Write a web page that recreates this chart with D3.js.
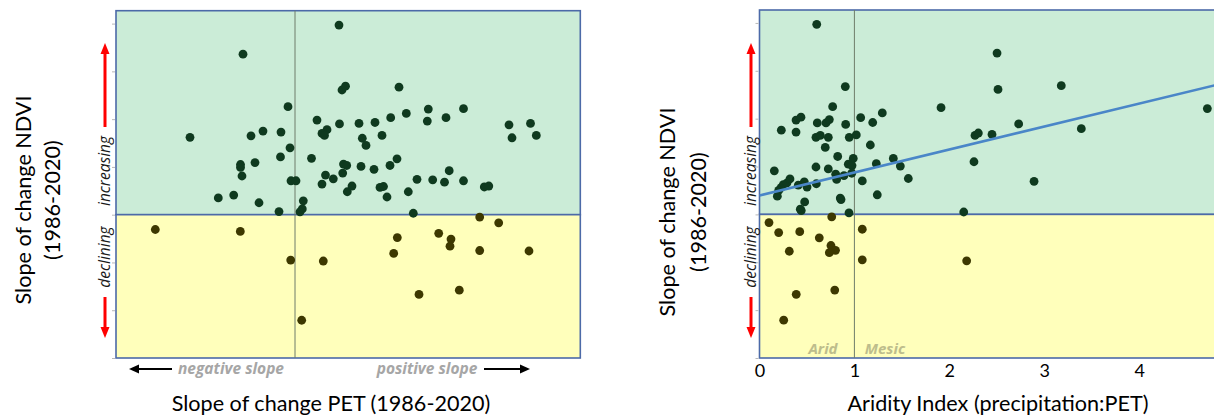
<!DOCTYPE html>
<html>
<head>
<meta charset="utf-8">
<script src="https://cdn.jsdelivr.net/npm/d3@7/dist/d3.min.js"></script>
<style>
  html, body { margin: 0; padding: 0; background: #fff; }
  svg { display: block; font-family: Lato, "Open Sans", sans-serif; }
</style>
</head>
<body>
<svg id="chart" width="1214" height="417"></svg>
<script>
// ---- Left panel: PET trend vs NDVI trend (per site) ----
const petSlope = [
  0.44, -0.52, 0.47, 0.505, 1.04, -0.07, 0.22, 0.445, 0.32, 0.27,
  0.295, -1.05, -0.44, -0.32, -0.14, -0.05, -0.145, 0.165, -0.545, -0.545,
  -0.40, -0.53, 0.485, 0.517, 0.477, 0.305, 0.383, 0.27, -0.04, 0.01,
  -0.767, -0.613, -0.36, -0.16, 0.083, 0.073, 0.05, 0.523, 0.57, 0.64,
  0.80, 0.957, 1.113, 1.333, 1.323, 1.51, 1.685, 0.673, 0.71, 0.87,
  2.14, 2.355, 2.17, 2.413, 0.66, 0.79, 0.95, 1.02, 1.542, 1.22,
  1.377, 1.495, 1.685, 0.85, 0.885, 0.92, 1.133, 1.893, 1.938, 1.183,
  -1.397, -0.547, -0.043, 0.283, 0.067, 1.847, 2.037, 1.023, 1.437, 1.56,
  1.55, 0.987, 1.847, 2.34, 1.24, 1.643
];
const ndviLeft = [
  3.97, 3.36, 2.61, 2.69, 2.67, 2.26, 1.98, 1.90, 1.78, 1.70,
  1.66, 1.62, 1.65, 1.75, 1.73, 1.40, 1.21, 1.18, 1.05, 0.99,
  1.09, 0.81, 1.06, 1.03, 0.87, 0.83, 0.75, 0.64, 0.71, 0.71,
  0.35, 0.41, 0.25, 0.065, 0.29, 0.12, 0.06, 0.48, 0.60, 1.91,
  1.93, 2.03, 2.12, 2.21, 1.96, 2.03, 2.22, 1.60, 1.45, 1.66,
  1.88, 1.91, 1.61, 1.66, 1.01, 0.95, 1.03, 1.17, 0.92, 0.74,
  0.73, 0.68, 0.71, 0.57, 0.59, 0.37, 0.48, 0.58, 0.60, 0.03,
  -0.31, -0.35, -0.95, -0.97, -2.21, -0.05, -0.17, -0.48, -0.39, -0.51,
  -0.66, -0.81, -0.75, -0.76, -1.67, -1.58
];

// ---- Right panel: aridity index vs NDVI trend ----
const aridity = [
  0.603, 0.904, 0.771, 1.294, 1.066, 1.193, 0.385, 0.437, 0.609, 0.701,
  0.736, 0.908, 0.230, 0.385, 0.595, 0.641, 0.725, 0.946, 1.020, 0.693,
  1.168, 0.824, 0.988, 1.410, 0.156, 0.595, 0.725, 0.936, 0.975, 1.231,
  1.484, 1.568, 1.083, 0.803, 0.813, 0.890, 0.972, 0.227, 0.251, 0.290,
  0.321, 0.188, 0.202, 0.409, 0.472, 0.501, 0.599, 0.851, 0.859, 1.241,
  0.476, 0.430, 0.440, 0.943,
  2.503, 2.513, 3.180, 1.913, 4.719, 2.731, 2.271, 2.306, 2.450, 3.391,
  2.260, 2.893, 2.152,
  0.100, 0.202, 0.424, 0.630, 0.761, 0.753, 0.801, 0.736, 0.314, 1.083,
  1.083, 0.387, 0.793, 0.255, 2.183
];
const ndviRight = [
  3.97, 2.67, 2.25, 2.12, 2.02, 1.92, 1.97, 2.03, 1.91, 1.91,
  1.98, 1.88, 1.76, 1.72, 1.61, 1.65, 1.61, 1.61, 1.66, 1.40,
  1.45, 1.21, 1.17, 1.17, 0.91, 0.99, 0.95, 1.05, 1.02, 1.06,
  1.01, 0.75, 0.70, 0.84, 0.73, 0.81, 0.86, 0.56, 0.62, 0.66,
  0.74, 0.38, 0.50, 0.61, 0.68, 0.57, 0.64, 0.34, 0.31, 0.41,
  0.26, 0.11, 0.08, 0.03,
  3.37, 2.61, 2.69, 2.23, 2.21, 1.89, 1.65, 1.70, 1.67, 1.79,
  1.10, 0.69, 0.05,
  -0.17, -0.38, -0.36, -0.49, -0.05, -0.65, -0.75, -0.80, -0.77, -0.31,
  -0.95, -1.67, -1.58, -2.21, -0.97
];

// Linear fit drawn over the right panel (NDVI slope = a + b * AI)
const trendIntercept = 0.394;
const trendSlope = 0.48;

const ndviTicks = [-3, -2, -1, 0, 1, 2, 3, 4];
const aridityTicks = [0, 1, 2, 3, 4];
const ndviDomain = [-3, 4.27];

const C = {
  green: "#cbecd7",
  yellow: "#ffffbb",
  frame: "#4c6aa8",
  dotUp: "#0f3a1f",
  dotDown: "#3d3800",
  zero: "#6e7d6a",
  red: "#ff0000",
  trend: "#4a86c8",
  hint: "#a6a6a6",
  zone: "#bdbd8c"
};
const TITLE_SIZE = 21.6;

const svg = d3.select("#chart");

function drawPanel(opts) {
  const { x, y, xs, ys, zeroX, arrowX, titleX1, titleX2, titleY, clipRight } = opts;
  const g = svg.append("g");
  const [x0, x1] = x.range();
  const right = clipRight ? 1220 : x1;

  // Quadrant backgrounds
  g.append("rect")
    .attr("x", x0).attr("y", y(ndviDomain[1]))
    .attr("width", right - x0).attr("height", y(0) - y(ndviDomain[1]))
    .attr("fill", C.green).attr("stroke", C.frame).attr("stroke-width", 1.6);
  g.append("rect")
    .attr("x", x0).attr("y", y(0))
    .attr("width", right - x0).attr("height", y(ndviDomain[0]) - y(0))
    .attr("fill", C.yellow).attr("stroke", C.frame).attr("stroke-width", 1.6);

  // Faint y ticks
  const ax = g.append("g")
    .attr("transform", `translate(${x0 - 1},0)`)
    .call(d3.axisLeft(y).tickValues(ndviTicks).tickSize(3).tickFormat(""));
  ax.select(".domain").remove();
  ax.selectAll("line").attr("stroke", "#b8b8b8").attr("stroke-width", 1);

  // Vertical reference line
  g.append("line")
    .attr("x1", x(zeroX)).attr("x2", x(zeroX))
    .attr("y1", y(ndviDomain[1])).attr("y2", y(ndviDomain[0]))
    .attr("stroke", C.zero).attr("stroke-width", 1);

  // Red direction arrows and labels
  const up0 = 127, up1 = 43, dn0 = 297, dn1 = 338;
  g.append("line").attr("x1", arrowX).attr("x2", arrowX)
    .attr("y1", up0).attr("y2", up1 + 9)
    .attr("stroke", C.red).attr("stroke-width", 3);
  g.append("path")
    .attr("d", `M${arrowX},${up1} L${arrowX - 4.5},${up1 + 11} L${arrowX + 4.5},${up1 + 11} Z`)
    .attr("fill", C.red);
  g.append("line").attr("x1", arrowX).attr("x2", arrowX)
    .attr("y1", dn0).attr("y2", dn1 - 9)
    .attr("stroke", C.red).attr("stroke-width", 3);
  g.append("path")
    .attr("d", `M${arrowX},${dn1} L${arrowX - 4.5},${dn1 - 11} L${arrowX + 4.5},${dn1 - 11} Z`)
    .attr("fill", C.red);

  g.append("text")
    .attr("transform", `translate(${arrowX + 5},171) rotate(-90)`)
    .attr("text-anchor", "middle")
    .attr("font-style", "italic").attr("font-size", 15.5).attr("fill", "#1a1a1a")
    .attr("font-family", "'Open Sans', sans-serif")
    .text("increasing");
  g.append("text")
    .attr("transform", `translate(${arrowX + 5},257) rotate(-90)`)
    .attr("text-anchor", "middle")
    .attr("font-style", "italic").attr("font-size", 15.5).attr("fill", "#1a1a1a")
    .attr("font-family", "'Open Sans', sans-serif")
    .text("declining");

  // Y title (two lines)
  g.append("text")
    .attr("transform", `translate(${titleX1},${titleY}) rotate(-90)`)
    .attr("text-anchor", "middle").attr("dominant-baseline", "central")
    .attr("font-size", TITLE_SIZE).attr("fill", "#000")
    .text("Slope of change NDVI");
  g.append("text")
    .attr("transform", `translate(${titleX2},${titleY}) rotate(-90)`)
    .attr("text-anchor", "middle").attr("dominant-baseline", "central")
    .attr("font-size", TITLE_SIZE).attr("fill", "#000")
    .text("(1986-2020)");

  // Points
  const pts = xs.map((v, i) => ({ x: v, y: ys[i] }));
  g.append("g").selectAll("circle").data(pts).join("circle")
    .attr("cx", d => x(d.x)).attr("cy", d => y(d.y)).attr("r", 4.4)
    .attr("fill", d => d.y >= 0 ? C.dotUp : C.dotDown);

  return g;
}

// ---- Left panel ----
const xLeft = d3.scaleLinear().domain([-1.79, 2.853]).range([116, 580.3]);
const yLeft = d3.scaleLinear().domain(ndviDomain).range([358, 10.7]);
const gl = drawPanel({
  x: xLeft, y: yLeft, xs: petSlope, ys: ndviLeft, zeroX: 0,
  arrowX: 105, titleX1: 23, titleX2: 52, titleY: 200, clipRight: false
});

// slope-direction hints below the left panel
gl.append("text").attr("x", 231).attr("y", 368).attr("text-anchor", "middle")
  .attr("dominant-baseline", "central")
  .attr("font-style", "italic").attr("font-weight", "bold").attr("font-size", 15.5)
  .attr("fill", C.hint).attr("font-family", "'Open Sans', sans-serif")
  .text("negative slope");
gl.append("text").attr("x", 427).attr("y", 368).attr("text-anchor", "middle")
  .attr("dominant-baseline", "central")
  .attr("font-style", "italic").attr("font-weight", "bold").attr("font-size", 15.5)
  .attr("fill", C.hint).attr("font-family", "'Open Sans', sans-serif")
  .text("positive slope");
gl.append("line").attr("x1", 172).attr("x2", 138).attr("y1", 369).attr("y2", 369)
  .attr("stroke", "#000").attr("stroke-width", 2.2);
gl.append("path").attr("d", "M129,369 L139,364.5 L139,373.5 Z").attr("fill", "#000");
gl.append("line").attr("x1", 484).attr("x2", 521).attr("y1", 369).attr("y2", 369)
  .attr("stroke", "#000").attr("stroke-width", 2.2);
gl.append("path").attr("d", "M530,369 L520,364.5 L520,373.5 Z").attr("fill", "#000");

gl.append("text").attr("x", 331).attr("y", 403).attr("text-anchor", "middle")
  .attr("dominant-baseline", "central").attr("font-size", TITLE_SIZE).attr("fill", "#000")
  .text("Slope of change PET (1986-2020)");

// ---- Right panel ----
const xRight = d3.scaleLinear().domain([0, 4.8]).range([759.5, 759.5 + 4.8 * 94.9]);
const yRight = d3.scaleLinear().domain(ndviDomain).range([358, 10]);
const gr = drawPanel({
  x: xRight, y: yRight, xs: aridity, ys: ndviRight, zeroX: 1,
  arrowX: 751, titleX1: 667, titleX2: 698, titleY: 212, clipRight: true
});

// regression line
gr.append("line")
  .attr("x1", xRight(0)).attr("y1", yRight(trendIntercept))
  .attr("x2", xRight(4.8)).attr("y2", yRight(trendIntercept + trendSlope * 4.8))
  .attr("stroke", C.trend).attr("stroke-width", 2.6);

// x axis tick labels
const xa = gr.append("g")
  .attr("transform", `translate(0,${yRight(ndviDomain[0])})`)
  .call(d3.axisBottom(xRight).tickValues(aridityTicks).tickSize(0).tickPadding(6).tickFormat(d3.format("d")));
xa.select(".domain").remove();
xa.selectAll("text").attr("font-size", 18).attr("fill", "#000")
  .attr("font-family", "Lato, 'Open Sans', sans-serif");

// zone labels
gr.append("text").attr("x", 823).attr("y", 348).attr("text-anchor", "middle")
  .attr("dominant-baseline", "central")
  .attr("font-style", "italic").attr("font-weight", "bold").attr("font-size", 15)
  .attr("fill", C.zone).attr("font-family", "'Open Sans', sans-serif")
  .text("Arid");
gr.append("text").attr("x", 885).attr("y", 348).attr("text-anchor", "middle")
  .attr("dominant-baseline", "central")
  .attr("font-style", "italic").attr("font-weight", "bold").attr("font-size", 15)
  .attr("fill", C.zone).attr("font-family", "'Open Sans', sans-serif")
  .text("Mesic");

gr.append("text").attr("x", 998).attr("y", 403).attr("text-anchor", "middle")
  .attr("dominant-baseline", "central").attr("font-size", TITLE_SIZE).attr("fill", "#000")
  .text("Aridity Index (precipitation:PET)");
</script>
</body>
</html>
